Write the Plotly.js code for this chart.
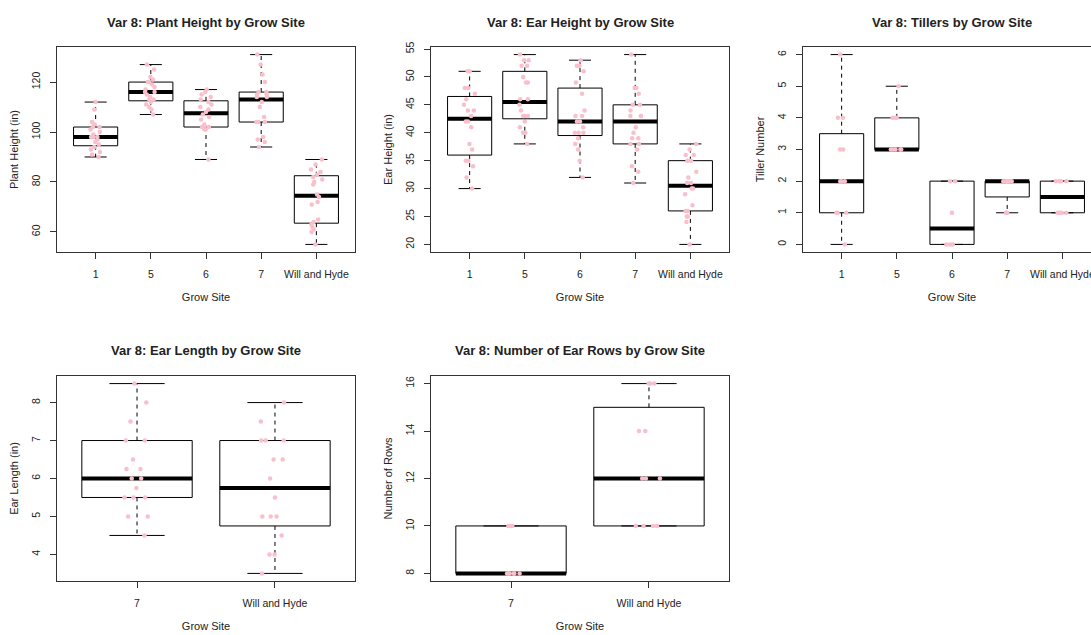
<!DOCTYPE html>
<html>
<head>
<meta charset="utf-8">
<script src="https://cdn.plot.ly/plotly-3.0.1.min.js"></script>
<style>
  html, body { margin: 0; padding: 0; overflow: hidden; background: #fff; }
  #chart { width: 1110px; height: 635px; }
</style>
</head>
<body>
<div id="chart"></div>
<script>
// Grow sites
const sitesAll = ['1', '5', '6', '7', 'Will and Hyde'];
const sitesEar = ['7', 'Will and Hyde'];

// Plant height (in)
const plantHeight1  = [90, 91, 92, 93, 94, 95, 96, 97, 98, 98, 98, 99, 100, 101, 102, 102, 103, 104, 109, 112];
const plantHeight5  = [107, 109, 110, 111, 112, 113, 113, 114, 115, 116, 116, 117, 118, 119, 120, 120, 121, 122, 125, 127];
const plantHeight6  = [89, 101, 101, 102, 102, 102, 103, 105, 106, 107, 108, 109, 110, 111, 112, 113, 114, 115, 116, 117];
const plantHeight7  = [94, 96, 97, 98, 104, 104, 104, 106, 110, 112, 114, 114, 115, 115, 116, 116, 120, 123, 127, 131];
const plantHeightWH = [55, 60, 61, 62, 63, 64, 65, 71, 72, 74, 75, 79, 80, 81, 82, 83, 84, 85, 87, 89];

// Ear height (in)
const earHeight1  = [30, 32, 34, 35, 35, 37, 38, 41, 42, 42, 43, 44, 44, 45, 46, 47, 48, 48, 51, 51];
const earHeight5  = [38, 40, 40, 41, 42, 43, 43, 43, 44, 45, 46, 46, 49, 49, 50, 52, 52, 53, 53, 54];
const earHeight6  = [32, 35, 37, 38, 39, 40, 40, 40, 41, 42, 42, 43, 43, 44, 47, 49, 51, 52, 52, 53];
const earHeight7  = [31, 33, 34, 37, 38, 38, 39, 39, 40, 41, 43, 43, 43, 44, 45, 45, 47, 48, 48, 54];
const earHeightWH = [20, 24, 25, 25, 26, 26, 27, 29, 30, 30, 31, 31, 32, 33, 35, 35, 36, 36, 37, 38];

// Tiller number
const tillers1  = [0, 1, 1, 1, 2, 2, 2, 3, 3, 4, 4, 6];
const tillers5  = [3, 3, 3, 3, 3, 4, 4, 4, 5];
const tillers6  = [0, 0, 0, 1, 2, 2];
const tillers7  = [1, 1, 1, 2, 2, 2, 2, 2, 2, 2, 2, 2];
const tillersWH = [1, 1, 1, 1, 2, 2, 2, 2];

// Ear length (in)
const earLength7  = [4.5, 5, 5, 5.5, 5.5, 5.5, 5.75, 6, 6, 6.25, 6.25, 6.5, 7, 7, 7.5, 8, 8.5];
const earLengthWH = [3.5, 4, 4, 4.5, 5, 5, 5, 5.5, 6, 6.5, 6.5, 7, 7, 7, 7.5, 8];

// Number of ear rows
const earRows7  = [8, 8, 8, 8, 8, 8, 10, 10, 10, 10];
const earRowsWH = [10, 10, 10, 10, 12, 12, 12, 14, 14, 16, 16, 16];

const panels = [
  { title: 'Var 8: Plant Height by Grow Site', ytitle: 'Plant Height (in)', sites: sitesAll, dtick: 20,
    groups: [plantHeight1, plantHeight5, plantHeight6, plantHeight7, plantHeightWH] },
  { title: 'Var 8: Ear Height by Grow Site', ytitle: 'Ear Height (in)', sites: sitesAll, dtick: 5,
    groups: [earHeight1, earHeight5, earHeight6, earHeight7, earHeightWH] },
  { title: 'Var 8: Tillers by Grow Site', ytitle: 'Tiller Number', sites: sitesAll, dtick: 1,
    groups: [tillers1, tillers5, tillers6, tillers7, tillersWH] },
  { title: 'Var 8: Ear Length by Grow Site', ytitle: 'Ear Length (in)', sites: sitesEar, dtick: 1,
    groups: [earLength7, earLengthWH] },
  { title: 'Var 8: Number of Ear Rows by Grow Site', ytitle: 'Number of Rows', sites: sitesEar, dtick: 2,
    groups: [earRows7, earRowsWH] }
];

// Page geometry (px): 2 x 3 grid of plot regions
const W = 1110, H = 635;
const colLeft = [57, 431, 803], plotW = 298;
const rowTop = [47, 376], plotH = 205;
const FONT = '"Liberation Sans", Arial, sans-serif';
const FRAME = '#333';
const POINT = '#F9BFCB';

// Tukey five-number summary
function fivenum(v) {
  const s = [...v].sort((a, b) => a - b);
  const n = s.length;
  const n4 = Math.floor((n + 3) / 2) / 2;
  const d = [1, n4, (n + 1) / 2, n + 1 - n4, n];
  return d.map(p => 0.5 * (s[Math.floor(p) - 1] + s[Math.ceil(p) - 1]));
}

function boxStats(v) {
  const f = fivenum(v);
  const iqr = f[3] - f[1];
  const lo = f[1] - 1.5 * iqr, hi = f[3] + 1.5 * iqr;
  const inside = v.filter(d => d >= lo && d <= hi);
  return { q1: f[1], med: f[2], q3: f[3], wlo: Math.min(...inside), whi: Math.max(...inside) };
}

const traces = [];
const layout = {
  width: W, height: H,
  margin: { l: 0, r: 0, t: 0, b: 0 },
  paper_bgcolor: '#fff', plot_bgcolor: '#fff',
  showlegend: false,
  font: { family: FONT, color: '#222', size: 11 },
  annotations: []
};

const HALF = 0.4, CAP = 0.2;

panels.forEach((p, i) => {
  const k = i + 1, ko = i + 1 + panels.length;
  const sx = k === 1 ? '' : String(k);
  const col = i % 3, row = Math.floor(i / 3);
  const x0 = colLeft[col], y0 = rowTop[row];
  const xdom = [x0 / W, (x0 + plotW) / W];
  const ydom = [1 - (y0 + plotH) / H, 1 - y0 / H];
  const n = p.sites.length;
  const xr = [0.5 - 0.04 * n, n + 0.5 + 0.04 * n];
  const all = [].concat(...p.groups);
  const mn = Math.min(...all), mx = Math.max(...all);
  const pad = 0.04 * (mx - mn);
  const yr = [mn - pad, mx + pad];

  // Box outlines, medians, whiskers and staples
  const bx = [], by = [], mxs = [], mys = [], wx = [], wy = [], cx = [], cy = [];
  p.groups.forEach((g, j) => {
    const c = j + 1, s = boxStats(g);
    bx.push(c - HALF, c + HALF, c + HALF, c - HALF, c - HALF, null);
    by.push(s.q1, s.q1, s.q3, s.q3, s.q1, null);
    mxs.push(c - HALF, c + HALF, null);
    mys.push(s.med, s.med, null);
    wx.push(c, c, null, c, c, null);
    wy.push(s.q3, s.whi, null, s.q1, s.wlo, null);
    cx.push(c - CAP, c + CAP, null, c - CAP, c + CAP, null);
    cy.push(s.whi, s.whi, null, s.wlo, s.wlo, null);
  });
  const ax = { xaxis: 'x' + sx, yaxis: 'y' + sx, mode: 'lines', type: 'scatter', hoverinfo: 'skip', connectgaps: false };
  traces.push(Object.assign({}, ax, { x: wx, y: wy, line: { color: '#000', width: 1, dash: '4px,4px' } }));
  traces.push(Object.assign({}, ax, { x: cx, y: cy, line: { color: '#000', width: 1 } }));
  traces.push(Object.assign({}, ax, { x: bx, y: by, line: { color: '#000', width: 1 } }));
  traces.push(Object.assign({}, ax, { x: mxs, y: mys, line: { color: '#000', width: 4 } }));

  // Jittered observations, on an overlaid subplot so they sit above the boxes
  const px = [], py = [];
  p.groups.forEach((g, j) => g.forEach(v => { px.push(j + 1); py.push(v); }));
  traces.push({
    type: 'box', xaxis: 'x' + ko, yaxis: 'y' + ko, x: px, y: py,
    boxpoints: 'all', jitter: 0.3, pointpos: 0, width: 0.8,
    line: { width: 0, color: 'rgba(0,0,0,0)' }, fillcolor: 'rgba(0,0,0,0)',
    marker: { color: POINT, size: 4.5 }, hoverinfo: 'y'
  });

  layout['xaxis' + sx] = {
    domain: xdom, anchor: 'y' + sx, range: xr, fixedrange: true,
    tickmode: 'array', tickvals: p.sites.map((_, j) => j + 1), ticktext: p.sites,
    ticks: 'outside', ticklen: 6, tickcolor: FRAME, tickwidth: 1,
    showline: true, mirror: true, linecolor: FRAME, linewidth: 1,
    showgrid: false, zeroline: false, automargin: false,
    tickfont: { size: 10.5, color: '#222' }, ticklabelstandoff: 6,
    title: { text: 'Grow Site', font: { size: 11, color: '#222' }, standoff: 14 }
  };
  layout['yaxis' + sx] = {
    domain: ydom, anchor: 'x' + sx, range: yr, fixedrange: true,
    tick0: 0, dtick: p.dtick, tickangle: -90,
    ticks: 'outside', ticklen: 6, tickcolor: FRAME, tickwidth: 1,
    showline: true, mirror: true, linecolor: FRAME, linewidth: 1,
    showgrid: false, zeroline: false, automargin: false,
    tickfont: { size: 10.5, color: '#222' }, ticklabelstandoff: 6,
    title: { text: p.ytitle, font: { size: 11, color: '#222' }, standoff: 8 }
  };
  layout['xaxis' + ko] = { overlaying: 'x' + sx, anchor: 'y' + ko, range: xr, visible: false, fixedrange: true };
  layout['yaxis' + ko] = { overlaying: 'y' + sx, anchor: 'x' + ko, range: yr, visible: false, fixedrange: true };

  layout.annotations.push({
    text: '<b>' + p.title + '</b>', xref: 'paper', yref: 'paper',
    x: (x0 + plotW / 2) / W, y: 1 - (y0 - 25) / H,
    xanchor: 'center', yanchor: 'middle', showarrow: false,
    font: { size: 13, color: '#222', family: FONT }
  });
});

Plotly.newPlot('chart', traces, layout, { staticPlot: true, displayModeBar: false });
</script>
</body>
</html>
